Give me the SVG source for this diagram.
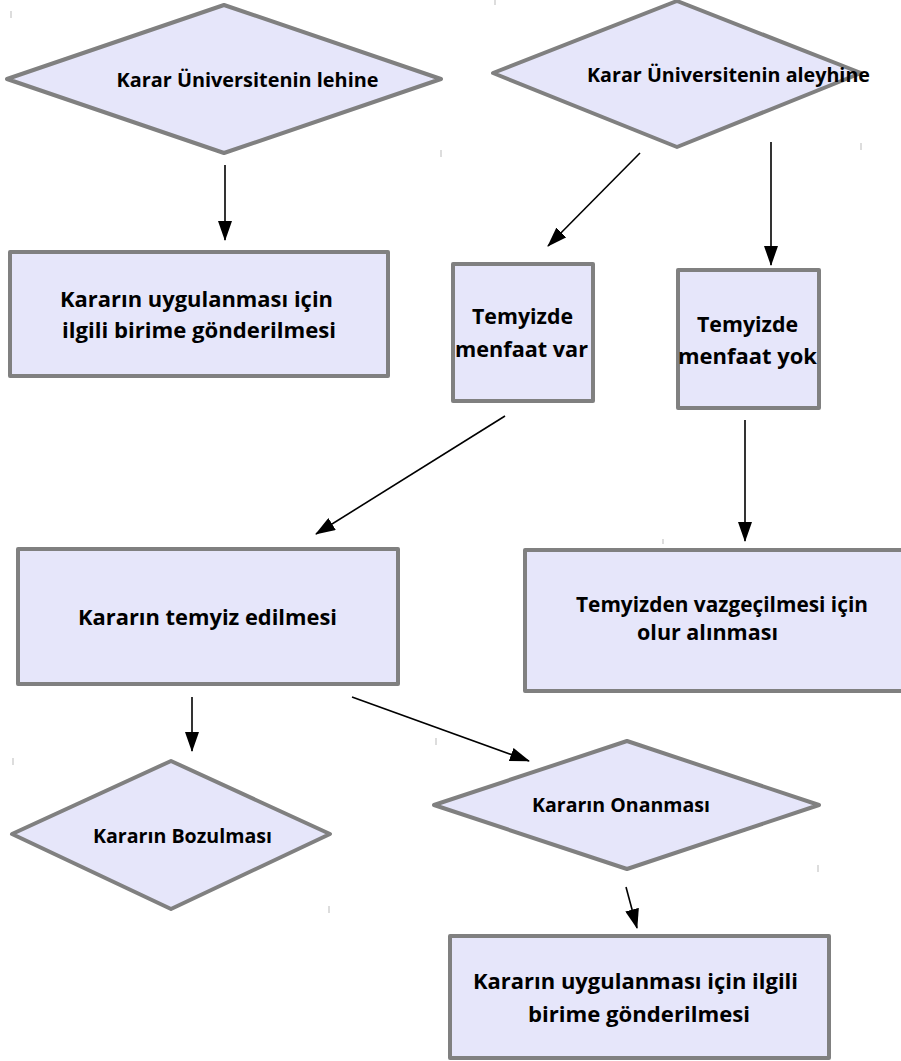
<svg xmlns="http://www.w3.org/2000/svg" width="901" height="1061" viewBox="0 0 901 1061">
<style>
.n{fill:#e6e6fa;stroke:#808080;stroke-width:4;stroke-linejoin:round}
.t{font-family:"Open Sans",Lato,"Liberation Sans",sans-serif;font-weight:bold;font-size:21px;fill:#000;text-anchor:middle}
.s{font-size:20px}
.c{stroke:#000;stroke-width:1.6;fill:none;marker-end:url(#ah)}
.k{stroke:#bbb;stroke-width:1}
</style>
<defs>
<marker id="ah" markerWidth="20" markerHeight="14" refX="19" refY="7" orient="auto" markerUnits="userSpaceOnUse">
<path d="M0,0 L20,7 L0,14 Z" fill="#000"/>
</marker>
</defs>
<rect width="901" height="1061" fill="#fff"/>
<g id="ticks">
<line class="k" x1="11" y1="11" x2="11" y2="18"/>
<line class="k" x1="441" y1="150" x2="441" y2="157"/>
<line class="k" x1="495" y1="0" x2="495" y2="5"/>
<line class="k" x1="861" y1="143" x2="861" y2="150"/>
<line class="k" x1="13" y1="758" x2="13" y2="765"/>
<line class="k" x1="436" y1="738" x2="436" y2="745"/>
<line class="k" x1="329" y1="906" x2="329" y2="913"/>
<line class="k" x1="818" y1="865" x2="818" y2="872"/>
<line class="k" x1="663" y1="539" x2="663" y2="544"/>
</g>
<g id="connectors">
<line class="c" x1="225" y1="165" x2="225" y2="240"/>
<line class="c" x1="640" y1="153" x2="548" y2="246"/>
<line class="c" x1="771" y1="142" x2="771" y2="265"/>
<line class="c" x1="505" y1="416" x2="316" y2="534"/>
<line class="c" x1="745" y1="420" x2="745" y2="541"/>
<line class="c" x1="192" y1="697" x2="192" y2="751"/>
<line class="c" x1="352" y1="697" x2="529" y2="761"/>
<line class="c" x1="626" y1="887" x2="637" y2="928"/>
</g>
<g id="d1">
<polygon class="n" points="224,5 441,79 224,153 7,79"/>
<text class="t s" x="247.5" y="87" textLength="262" lengthAdjust="spacingAndGlyphs">Karar Üniversitenin lehine</text>
</g>
<g id="d2">
<polygon class="n" points="677,1 861,73 677,147 493,73"/>
<text class="t s" x="728.5" y="82" textLength="283" lengthAdjust="spacingAndGlyphs">Karar Üniversitenin aleyhine</text>
</g>
<g id="r1">
<rect class="n" x="10" y="252" width="378" height="124"/>
<text class="t" x="196.5" y="307" textLength="273" lengthAdjust="spacingAndGlyphs">Kararın uygulanması için</text>
<text class="t" x="199" y="338" textLength="274" lengthAdjust="spacingAndGlyphs">ilgili birime gönderilmesi</text>
</g>
<g id="r2">
<rect class="n" x="453" y="264" width="140" height="137"/>
<text class="t" x="522.5" y="324" textLength="101" lengthAdjust="spacingAndGlyphs">Temyizde</text>
<text class="t" x="521.5" y="357" textLength="133" lengthAdjust="spacingAndGlyphs">menfaat var</text>
</g>
<g id="r3">
<rect class="n" x="678" y="270" width="141" height="138"/>
<text class="t" x="747.5" y="332" textLength="101" lengthAdjust="spacingAndGlyphs">Temyizde</text>
<text class="t" x="747.5" y="364" textLength="139" lengthAdjust="spacingAndGlyphs">menfaat yok</text>
</g>
<g id="r4">
<rect class="n" x="18" y="549" width="380" height="135"/>
<text class="t" x="207.5" y="625" textLength="259" lengthAdjust="spacingAndGlyphs">Kararın temyiz edilmesi</text>
</g>
<g id="r5">
<rect class="n" x="525" y="550" width="395" height="141"/>
<text class="t" x="722" y="612" textLength="292" lengthAdjust="spacingAndGlyphs">Temyizden vazgeçilmesi için</text>
<text class="t" x="707.5" y="640" textLength="141" lengthAdjust="spacingAndGlyphs">olur alınması</text>
</g>
<g id="d3">
<polygon class="n" points="171,761 330,834 171,909 12,834"/>
<text class="t s" x="182.5" y="843" textLength="179" lengthAdjust="spacingAndGlyphs">Kararın Bozulması</text>
</g>
<g id="d4">
<polygon class="n" points="627,741 819,805 627,869 434,805"/>
<text class="t s" x="621" y="812" textLength="178" lengthAdjust="spacingAndGlyphs">Kararın Onanması</text>
</g>
<g id="r6">
<rect class="n" x="450" y="936" width="379" height="122"/>
<text class="t" x="635.5" y="989" textLength="325" lengthAdjust="spacingAndGlyphs">Kararın uygulanması için ilgili</text>
<text class="t" x="639" y="1022" textLength="222" lengthAdjust="spacingAndGlyphs">birime gönderilmesi</text>
</g>
</svg>
